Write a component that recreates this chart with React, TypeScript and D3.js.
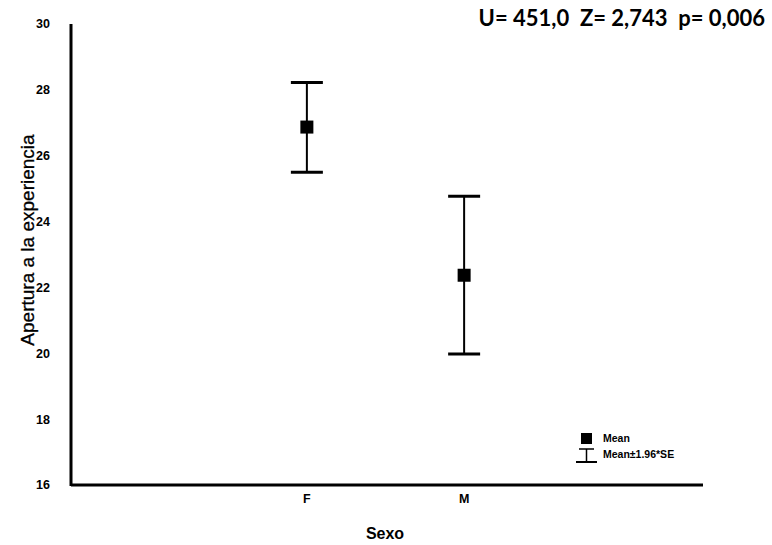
import React, { useEffect, useRef } from 'react';
import * as d3 from 'd3';

const categories = ['F', 'M'];
const means = [26.87, 22.37];
const upper = [28.22, 24.77];
const lower = [25.5, 19.98];
const yTicks = [16, 18, 20, 22, 24, 26, 28, 30];
const statsLabel = 'U= 451,0\u00a0\u00a0Z= 2,743\u00a0\u00a0p= 0,006';

const App = () => {
  const svgRef = useRef<SVGSVGElement>(null);

  useEffect(() => {
    const svg = d3.select(svgRef.current);
    svg.selectAll('*').remove();

    const width = 772;
    const height = 545;
    const left = 71;
    const right = 700;
    const top = 24;
    const bottom = 485;

    svg.attr('width', width).attr('height', height);

    const x = d3.scaleLinear().domain([-0.5, 3.5]).range([left, right]);
    const y = d3.scaleLinear().domain([16, 30]).range([bottom, top]);

    // axes
    svg.append('line')
      .attr('x1', left).attr('x2', left)
      .attr('y1', y(30)).attr('y2', bottom + 1)
      .attr('stroke', '#000').attr('stroke-width', 3);
    svg.append('line')
      .attr('x1', left).attr('x2', right + 3)
      .attr('y1', bottom).attr('y2', bottom)
      .attr('stroke', '#000').attr('stroke-width', 3);

    svg.append('g')
      .selectAll('text')
      .data(yTicks)
      .enter().append('text')
      .attr('x', 50)
      .attr('y', d => y(d))
      .attr('dy', '0.35em')
      .attr('text-anchor', 'end')
      .style('font-family', 'Liberation Sans, Arial, sans-serif')
      .style('font-weight', 'bold')
      .style('font-size', '12.5px')
      .text(d => d);

    svg.append('g')
      .selectAll('text')
      .data(categories)
      .enter().append('text')
      .attr('x', (d, i) => x(i + 1))
      .attr('y', 503)
      .attr('text-anchor', 'middle')
      .style('font-family', 'Liberation Sans, Arial, sans-serif')
      .style('font-weight', 'bold')
      .style('font-size', '12.5px')
      .text(d => d);

    svg.append('text')
      .attr('x', 385)
      .attr('y', 539)
      .attr('text-anchor', 'middle')
      .style('font-family', 'Liberation Sans, Arial, sans-serif')
      .style('font-weight', 'bold')
      .style('font-size', '16px')
      .text('Sexo');

    svg.append('text')
      .attr('transform', 'translate(34,240) rotate(-90)')
      .attr('text-anchor', 'middle')
      .style('font-family', 'Liberation Sans, Arial, sans-serif')
      .style('font-size', '19px')
      .style('stroke', '#000')
      .style('stroke-width', 0.3)
      .text('Apertura a la experiencia');

    svg.append('text')
      .attr('x', 765)
      .attr('y', 26)
      .attr('text-anchor', 'end')
      .style('font-family', 'Lato, Open Sans, sans-serif')
      .style('font-weight', 'bold')
      .style('font-size', '22px')
      .text(statsLabel);

    // error bars
    const bars = svg.append('g')
      .selectAll('g')
      .data(categories)
      .enter().append('g');

    bars.append('line')
      .attr('x1', (d, i) => x(i + 1)).attr('x2', (d, i) => x(i + 1))
      .attr('y1', (d, i) => y(upper[i])).attr('y2', (d, i) => y(lower[i]))
      .attr('stroke', '#000').attr('stroke-width', 2);
    bars.append('line')
      .attr('x1', (d, i) => x(i + 1) - 16).attr('x2', (d, i) => x(i + 1) + 16)
      .attr('y1', (d, i) => y(upper[i])).attr('y2', (d, i) => y(upper[i]))
      .attr('stroke', '#000').attr('stroke-width', 3);
    bars.append('line')
      .attr('x1', (d, i) => x(i + 1) - 16).attr('x2', (d, i) => x(i + 1) + 16)
      .attr('y1', (d, i) => y(lower[i])).attr('y2', (d, i) => y(lower[i]))
      .attr('stroke', '#000').attr('stroke-width', 3);
    bars.append('rect')
      .attr('x', (d, i) => x(i + 1) - 6.5)
      .attr('y', (d, i) => y(means[i]) - 6.5)
      .attr('width', 13).attr('height', 13)
      .attr('fill', '#000');

    // legend
    const legend = svg.append('g').attr('transform', 'translate(576,433)');
    legend.append('rect')
      .attr('x', 5).attr('y', 0).attr('width', 11).attr('height', 11)
      .attr('fill', '#000');
    legend.append('text')
      .attr('x', 27).attr('y', 9)
      .style('font-family', 'Liberation Sans, Arial, sans-serif')
      .style('font-weight', 'bold')
      .style('font-size', '10.5px')
      .text('Mean');
    legend.append('line')
      .attr('x1', 3).attr('x2', 18).attr('y1', 16).attr('y2', 16)
      .attr('stroke', '#000').attr('stroke-width', 1.5);
    legend.append('line')
      .attr('x1', 10.5).attr('x2', 10.5).attr('y1', 16).attr('y2', 29)
      .attr('stroke', '#000').attr('stroke-width', 1.5);
    legend.append('line')
      .attr('x1', 0).attr('x2', 21).attr('y1', 29).attr('y2', 29)
      .attr('stroke', '#000').attr('stroke-width', 2);
    legend.append('text')
      .attr('x', 27).attr('y', 25)
      .style('font-family', 'Liberation Sans, Arial, sans-serif')
      .style('font-weight', 'bold')
      .style('font-size', '10.5px')
      .text('Mean±1.96*SE');
  }, []);

  return (
    <div style={{ position: 'absolute', left: 0, top: 0 }}>
      <svg ref={svgRef}></svg>
    </div>
  );
};

export default App;
